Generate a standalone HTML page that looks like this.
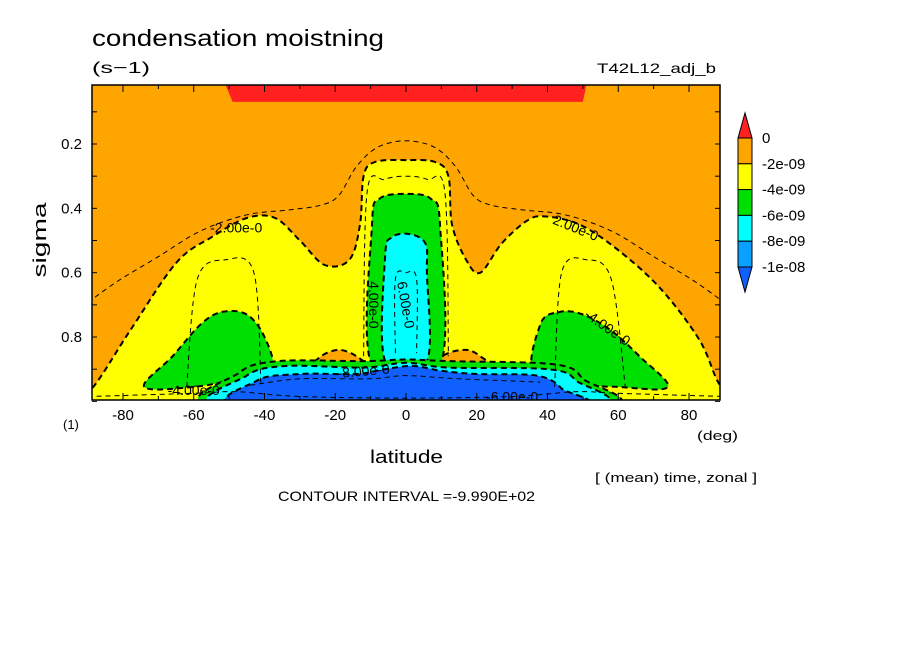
<!DOCTYPE html>
<html><head><meta charset="utf-8"><style>
body{margin:0;background:#fff}
svg{display:block;font-family:"Liberation Sans",sans-serif}
</style></head><body>
<svg id="c" width="904" height="654" xmlns="http://www.w3.org/2000/svg">
<text x="92" y="46" font-size="23" textLength="292" lengthAdjust="spacingAndGlyphs">condensation moistning</text>
<text x="92" y="73" font-size="16" textLength="58" lengthAdjust="spacingAndGlyphs">(s−1)</text>
<text x="597" y="73" font-size="14" textLength="119" lengthAdjust="spacingAndGlyphs">T42L12_adj_b</text>
<text x="46" y="240" font-size="18" transform="rotate(-90 46 240)" text-anchor="middle" textLength="75" lengthAdjust="spacingAndGlyphs">sigma</text>
<text x="370" y="463" font-size="18" textLength="73" lengthAdjust="spacingAndGlyphs">latitude</text>
<text x="697" y="440" font-size="13" textLength="41" lengthAdjust="spacingAndGlyphs">(deg)</text>
<text x="63" y="429" font-size="13">(1)</text>
<text x="595" y="482" font-size="13" textLength="162" lengthAdjust="spacingAndGlyphs">[ (mean) time, zonal ]</text>
<text x="278" y="501" font-size="14" textLength="257" lengthAdjust="spacingAndGlyphs">CONTOUR INTERVAL =-9.990E+02</text>
<g id="plot"></g>
</svg>
<script>
const xTicks=[-80,-60,-40,-20,0,20,40,60,80];
const yTicks=[0.2,0.4,0.6,0.8];
const legendLevels=["0","-2e-09","-4e-09","-6e-09","-8e-09","-1e-08"];
const legendColors=["#ff2020","#ffa500","#ffff00","#00e000","#00ffff","#0aa0ff","#1060ff"];
const redBand=[[-51,0.017],[51,0.017],[50,0.069],[-49,0.069]];
const yellowRegion=[[-95,1.05],[-95,0.99],[-88.8,0.96],[-78,0.78],[-65,0.57],[-55,0.49],[-45,0.43],[-37,0.43],[-30,0.5],[-23,0.576],[-16,0.56],[-13,0.45],[-12,0.3],[-8.8,0.256],[0,0.25],[8.2,0.256],[12,0.3],[13,0.45],[17,0.56],[21,0.6],[27,0.51],[34,0.44],[39,0.425],[49,0.45],[60,0.53],[72,0.65],[83,0.81],[88.8,0.95],[95,0.99],[95,1.05]];
const orangeBumpL=[[-26,0.9],[-24,0.86],[-19,0.84],[-14,0.86],[-11,0.9]];
const orangeBumpR=[[8,0.9],[11,0.855],[17,0.84],[21,0.86],[24,0.9]];
const greenL=[[-74,0.955],[-66,0.86],[-58,0.76],[-52,0.722],[-45,0.73],[-40,0.8],[-38,0.9],[-48,0.93],[-60,0.955]];
const greenR=[[37,0.93],[38,0.76],[43.5,0.722],[50,0.73],[58,0.78],[66,0.86],[74,0.955],[60,0.955]];
const greenC=[[-9.6,0.89],[-9.6,0.45],[-7.5,0.37],[0,0.355],[7,0.37],[9.6,0.45],[9.6,0.89]];
const cyanC=[[-5.9,0.875],[-5.9,0.55],[-4,0.49],[1,0.48],[5.5,0.51],[5.9,0.6],[5.9,0.875]];
const greenBottom=[[-52,1.02],[-47,0.91],[-36,0.875],[-12,0.875],[0,0.87],[12,0.875],[42,0.885],[50,0.93],[54,1.02]];
const cyanBottom=[[-50,1.02],[-45,0.92],[-34,0.89],[-12,0.895],[0,0.88],[12,0.895],[40,0.9],[48,0.935],[51,1.02]];
const blueBottom=[[-45,1.02],[-42,0.935],[-30,0.915],[-14,0.915],[-6,0.9],[2,0.89],[10,0.905],[20,0.915],[37,0.92],[44,0.96],[46,1.02]];
const dashThin1=[[-92,0.71],[-82,0.63],[-70,0.55],[-58,0.47],[-45,0.42],[-33,0.405],[-24,0.39],[-19,0.36],[-14,0.27],[-8,0.21],[0,0.19],[8,0.21],[14,0.27],[19,0.36],[24,0.39],[33,0.405],[45,0.42],[58,0.47],[70,0.55],[82,0.63],[92,0.71]];
const dashThin2=[[-62,0.955],[-59,0.62],[-51,0.56],[-43,0.6],[-41,0.955]];
const dashThin3=[[42,0.955],[44,0.6],[51,0.56],[58,0.62],[62,0.955]];
const dashThin4=[[-12,0.86],[-11,0.35],[-6,0.31],[0,0.3],[6,0.31],[11,0.35],[12,0.86]];
const dashThin5=[[-3,0.85],[-3,0.62],[0,0.6],[3,0.62],[3,0.85]];
const dashThin6=[[-90,0.985],[-60,0.975],[-48,0.97],[-30,0.985],[0,0.99],[30,0.985],[48,0.97],[60,0.975],[90,0.985]];
const dashThin7=[[-44,0.95],[-30,0.93],[-10,0.93],[0,0.92],[15,0.93],[38,0.94]];
const labels=[["-2.00e-0",-48,0.46,0],["2.00e-0",48,0.46,22],["-4.00e-0",57,0.77,35],["-4.00e-0",-60,0.965,0],["4.00e-0",-9,0.7,90],["6.00e-0",0,0.7,80],["-6.00e-0",30,0.985,0],["-8.00e-0",-12,0.905,-5]];

const X=l=>406+l*3.5375, Y=s=>144+(s-0.2)*321.7;
const NS="http://www.w3.org/2000/svg";
const g=document.getElementById('plot');
function mk(t,a,p){const e=document.createElementNS(NS,t);for(const k in a)e.setAttribute(k,a[k]);(p||g).appendChild(e);return e;}
function smooth(arr,closed){const P=arr.map(p=>[X(p[0]),Y(p[1])]);const n=P.length;
 const get=i=>closed?P[(i+n)%n]:P[Math.max(0,Math.min(n-1,i))];
 let d='M'+P[0][0].toFixed(1)+','+P[0][1].toFixed(1);
 const m=closed?n:n-1;
 for(let i=0;i<m;i++){const p0=get(i-1),p1=get(i),p2=get(i+1),p3=get(i+2);
  const c1=[p1[0]+(p2[0]-p0[0])/6,p1[1]+(p2[1]-p0[1])/6],c2=[p2[0]-(p3[0]-p1[0])/6,p2[1]-(p3[1]-p1[1])/6];
  d+=`C${c1[0].toFixed(1)},${c1[1].toFixed(1)} ${c2[0].toFixed(1)},${c2[1].toFixed(1)} ${p2[0].toFixed(1)},${p2[1].toFixed(1)}`;}
 return d+(closed?'Z':'');}
const clip=mk('clipPath',{id:'pc'});mk('rect',{x:92,y:85,width:628,height:315},clip);
const area=mk('g',{'clip-path':'url(#pc)'});
let e=mk('rect',{x:92,y:85,width:628,height:315,fill:'#ffa500'},area);


function poly(arr,fill,name,dash){const p=mk('path',{d:smooth(arr,true),fill:fill,stroke:dash?'#000':'none','stroke-width':2,'stroke-dasharray':'6 4'},area);

return p;}
function line(arr,name){const p=mk('path',{d:smooth(arr,false),fill:'none',stroke:'#000','stroke-width':1,'stroke-dasharray':'5 4'},area);

}
e=mk('polygon',{points:redBand.map(p=>X(p[0])+','+Y(p[1])).join(' '),fill:'#ff2020'},area);


poly(yellowRegion,'#ffff00','level-4e-09-region',true);
poly(orangeBumpL,'#ffa500','orange-bump-left',true);
poly(orangeBumpR,'#ffa500','orange-bump-right',true);
poly(greenL,'#00e000','green-region-left',true);
poly(greenR,'#00e000','green-region-right',true);
poly(greenC,'#00e000','green-region-center',true);
poly(cyanC,'#00ffff','cyan-region-center',true);
poly(greenBottom,'#00e000','green-region-bottom',true);
poly(cyanBottom,'#00ffff','cyan-region-bottom',true);
poly(blueBottom,'#1060ff','blue-region-bottom',true);
line(dashThin1,'contour-line-outer');line(dashThin2,'contour-line-left');line(dashThin3,'contour-line-right');line(dashThin4,'contour-line-center');line(dashThin5,'contour-line-core');line(dashThin6,'contour-line-surface');line(dashThin7,'contour-line-bottom');
labels.forEach(l=>{const x=X(l[1]),y=Y(l[2]);const t=mk('text',{x:x,y:y+5,'font-size':14,'text-anchor':'middle',transform:`rotate(${l[3]} ${x} ${y})`},area);t.textContent=l[0];

});
e=mk('rect',{x:92,y:85,width:628,height:315,fill:'none',stroke:'#000','stroke-width':1.5});


for(let l=-80;l<=80;l+=10){mk('line',{x1:X(l),x2:X(l),y1:400,y2:l%20?396:393,stroke:'#000'});mk('line',{x1:X(l),x2:X(l),y1:85,y2:l%20?89:92,stroke:'#000'});}
for(let s=0.1;s<1;s+=0.1){const y=Y(s);mk('line',{x1:92,x2:97,y1:y,y2:y,stroke:'#000'});mk('line',{x1:720,x2:715,y1:y,y2:y,stroke:'#000'});}
xTicks.forEach(v=>{const t=mk('text',{x:X(v),y:420,'font-size':15,'text-anchor':'middle'});t.textContent=v;

});
yTicks.forEach(v=>{const t=mk('text',{x:82,y:Y(v)+5,'font-size':15,'text-anchor':'end'});t.textContent=v;

});
// legend
const lgX=738,lgW=14,lgTop=138,lgH=25.8;
e=mk('polygon',{points:`${lgX},${lgTop} ${lgX+lgW},${lgTop} ${lgX+lgW/2},113`,fill:legendColors[0],stroke:'#000'});


for(let i=1;i<=5;i++){e=mk('rect',{x:lgX,y:lgTop+(i-1)*lgH,width:lgW,height:lgH,fill:legendColors[i],stroke:'#000'});

}
const lgBot=lgTop+5*lgH;
e=mk('polygon',{points:`${lgX},${lgBot} ${lgX+lgW},${lgBot} ${lgX+lgW/2},292`,fill:legendColors[6],stroke:'#000'});


legendLevels.forEach((v,i)=>{const t=mk('text',{x:762,y:lgTop+i*lgH+5,'font-size':15});t.textContent=v;

});
</script>
</body></html>
